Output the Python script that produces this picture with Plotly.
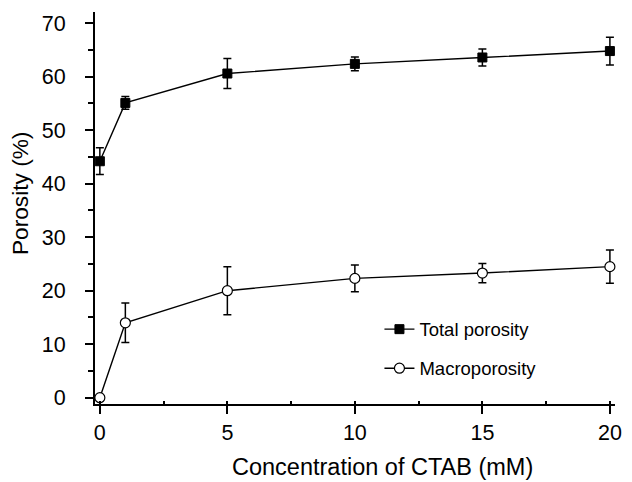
import plotly.graph_objects as go

# CTAB concentration (mM)
ctab_mM = [0, 1, 5, 10, 15, 20]

# Total porosity (%) and its standard deviation
total_porosity = [44.2, 55.1, 60.6, 62.4, 63.6, 64.8]
total_err = [2.5, 1.2, 2.8, 1.3, 1.6, 2.6]

# Macroporosity (%) and its standard deviation
macro_porosity = [0.0, 14.0, 20.0, 22.3, 23.3, 24.5]
macro_err = [0.0, 3.7, 4.5, 2.5, 1.8, 3.1]

x_ticks = [0, 5, 10, 15, 20]
y_ticks = [0, 10, 20, 30, 40, 50, 60, 70]

FONT = "Liberation Sans, Arial, sans-serif"

fig = go.Figure()

fig.add_trace(go.Scatter(
    x=ctab_mM, y=total_porosity, name="Total porosity",
    mode="lines+markers", legendgroup="total",
    line=dict(color="black", width=1.4),
    marker=dict(symbol="square", size=9, color="black",
                line=dict(color="black", width=1)),
    error_y=dict(type="data", array=total_err, visible=True,
                 color="black", thickness=1.5, width=4),
    cliponaxis=False,
))

fig.add_trace(go.Scatter(
    x=ctab_mM, y=macro_porosity, name="Macroporosity",
    mode="lines+markers", legendgroup="macro",
    line=dict(color="black", width=1.4),
    marker=dict(symbol="circle", size=10, color="white",
                line=dict(color="black", width=1.2)),
    error_y=dict(type="data", array=macro_err, visible=True,
                 color="black", thickness=1.5, width=4),
    cliponaxis=False,
))

axis_common = dict(
    showgrid=False, zeroline=False, showline=True,
    linecolor="black", linewidth=2.2,
    ticks="outside", ticklen=8, tickwidth=2, tickcolor="black",
    tickfont=dict(family=FONT, size=21.5, color="black"),
    mirror=False,
)

fig.update_xaxes(
    range=[-0.19, 20.2], tickvals=x_ticks, ticklabelstandoff=0,
    minor=dict(dtick=2.5, tick0=0, ticks="inside", ticklen=3,
               tickwidth=2, tickcolor="black"),
    **axis_common,
)
fig.update_yaxes(
    range=[-1.18, 72.1], tickvals=y_ticks, ticklabelstandoff=15,
    minor=dict(dtick=5, tick0=0, ticks="outside", ticklen=5,
               tickwidth=2, tickcolor="black"),
    **axis_common,
)

fig.add_annotation(
    text="Concentration of CTAB (mM)", xref="paper", yref="paper",
    x=0.552, y=-0.1607, xanchor="center", yanchor="middle",
    showarrow=False, font=dict(family=FONT, size=23.5, color="black"),
)
fig.add_annotation(
    text="Porosity (%)", xref="paper", yref="paper",
    x=-0.1442, y=0.538, xanchor="center", yanchor="middle",
    textangle=-90, showarrow=False,
    font=dict(family=FONT, size=22.7, color="black"),
)

fig.update_layout(
    width=632, height=482,
    margin=dict(l=95, r=10, t=12, b=78),
    paper_bgcolor="white", plot_bgcolor="white",
    font=dict(family=FONT, color="black"),
    showlegend=True,
    legend=dict(
        x=0.547, y=0.14, xanchor="left", yanchor="middle",
        bgcolor="rgba(0,0,0,0)", borderwidth=0,
        font=dict(family=FONT, size=18.5, color="black"),
        tracegroupgap=12, traceorder="grouped",
    ),
)

fig.write_html("out.html")
